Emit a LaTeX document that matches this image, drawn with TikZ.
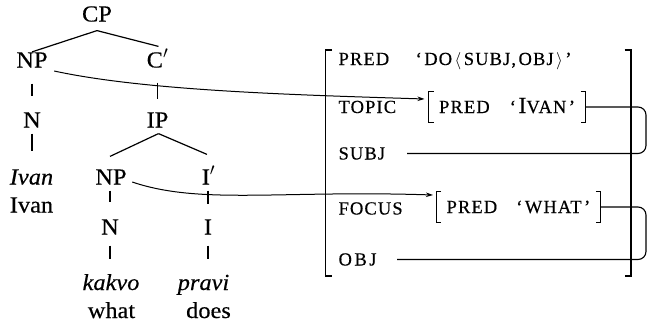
\documentclass[tikz,border=0pt]{standalone}
\usepackage{fontspec}
\setmainfont{Liberation Serif}[FakeStretch=1.06,FakeBold=0.4]
\newfontfamily\smcfont{Liberation Serif}[LetterSpace=6,FakeBold=0.4]
\usetikzlibrary{arrows.meta}

\newcommand\treefont{\fontsize{23}{27}\selectfont}
\newcommand\avmfont{\smcfont\fontsize{18.5}{22}\selectfont}
\newcommand\bigI{{\rmfamily\fontsize{23}{27}\selectfont I}}
\newcommand\qsp{\hspace{2.5pt}}

\begin{document}
\begin{tikzpicture}[x=1pt,y=-1pt,line width=1.2pt,
  tn/.style={inner sep=0pt,text height=15pt,text depth=0pt,font=\treefont},
  av/.style={inner sep=0pt,text height=12pt,text depth=0pt,font=\avmfont,anchor=west},
  fs/.style={inner xsep=10pt,inner ysep=0pt,minimum height=30pt,
             text height=12pt,text depth=0pt,font=\avmfont,anchor=west},
  link/.style={-{Stealth[length=7pt,width=4.5pt]},line width=1pt},
  tag/.style={rounded corners=8pt,line width=1.1pt}]
\useasboundingbox (0,0) rectangle (648,330);

% c-structure
\node[tn] (cp)     at (97,14)      {CP};
\node[tn] (np1)    at (32,60)      {NP};
\node[tn] (c1)     at (157.5,60)   {C$'$};
\node[tn] (n1)     at (32,120)     {N};
\node[tn] (ip)     at (157.5,120)  {IP};
\node[tn] (ivan)   at (31.5,177)   {\itshape Ivan};
\node[tn] (ivangl) at (31.5,205)   {Ivan};
\node[tn] (np2)    at (111,177)    {NP};
\node[tn] (i1)     at (208.5,177)  {I$'$};
\node[tn] (n2)     at (110,227)    {N};
\node[tn] (i0)     at (208,227)    {I};
\node[tn] (kakvo)  at (111,282.5)  {\itshape kakvo};
\node[tn] (pravi)  at (203.5,282.5){\itshape pravi};
\node[tn] (what)   at (111.5,310.5){what};
\node[tn] (does)   at (208.5,310.5){does};

\draw ([shift={(0,8.5)}]cp.south) -- (np1.north);
\draw ([shift={(0,8.5)}]cp.south) -- ([shift={(1,-5.5)}]c1.north);
\draw[shorten <=15.5pt,shorten >=15.5pt] (np1.south) -- (n1.north);
\draw[shorten <=14.5pt,shorten >=12.5pt] (c1.south) -- (ip.north);
\draw[shorten <=5.5pt,shorten >=17.5pt] (n1.south) -- (n1.south |- ivan.north);
\draw ([shift={(1,5.5)}]ip.south) -- ([shift={(-1,-12.5)}]np2.north);
\draw ([shift={(1,5.5)}]ip.south) -- ([shift={(-1.5,-14.5)}]i1.north);
\draw[shorten <=5.5pt,shorten >=16.5pt] (np2.south -| n2.north) -- (n2.north);
\draw[shorten <=5.5pt,shorten >=14.5pt] (i1.south -| i0.north) -- (i0.north);
\draw[shorten <=10.5pt,shorten >=15pt] (n2.south) -- (n2.south |- kakvo.north);
\draw[shorten <=10.5pt,shorten >=15pt] (i0.south) -- (i0.south |- pravi.north);

% f-structure frame
\draw (332,50) -- (325.5,50) -- (325.5,276) -- (332,276);
\draw (624.5,50) -- (631,50) -- (631,276) -- (624.5,276);

\node[av] (pred)    at (338,59)    {PRED};
\node[av] (predval) at (415,59)    {‘\qsp DO\qsp$\langle$\qsp SUBJ,\qsp OBJ\qsp$\rangle$\qsp’};
\node[av] (topic)   at (338,107)   {TOPIC};
\node[av] (subj)    at (338,153.5) {SUBJ};
\node[av] (focus)   at (338,208.5) {FOCUS};
\node[av] (obj)     at (338,259.5) {O\qsp B\qsp J};

\node[fs] (ivanfs) at (428.5,107) {PRED\hspace{20pt}‘\qsp\bigI VAN\qsp’};
\node[fs] (whatfs) at (436,207)   {PRED\hspace{19pt}‘\qsp WHAT\qsp’};

\foreach \f in {ivanfs,whatfs}{
  \draw[line width=1pt] ([xshift=5pt]\f.north west) -- (\f.north west) -- (\f.south west) -- ([xshift=5pt]\f.south west);
  \draw[line width=1pt] ([xshift=-5pt]\f.north east) -- (\f.north east) -- (\f.south east) -- ([xshift=-5pt]\f.south east);
}

% structure sharing
\coordinate (tagx)  at (646,0);
\coordinate (subjx) at (407,0);
\coordinate (objx)  at (397,0);
\draw[tag] (ivanfs.east) -- (ivanfs.east -| tagx) -- (subj.east -| tagx) -- (subj.east -| subjx);
\draw[tag] (whatfs.east) -- (whatfs.east -| tagx) -- (obj.east -| tagx) -- (obj.east -| objx);

% correspondence arrows
\draw[link] ([shift={(6,11)}]np1.east) .. controls +(92,20) and +(-125,-4) .. ([shift={(-4,-8)}]ivanfs.west);
\draw[link] ([shift={(5,5)}]np2.east) .. controls +(68,23) and +(-153,-5) .. ([shift={(-3,-12)}]whatfs.west);
\end{tikzpicture}
\end{document}
